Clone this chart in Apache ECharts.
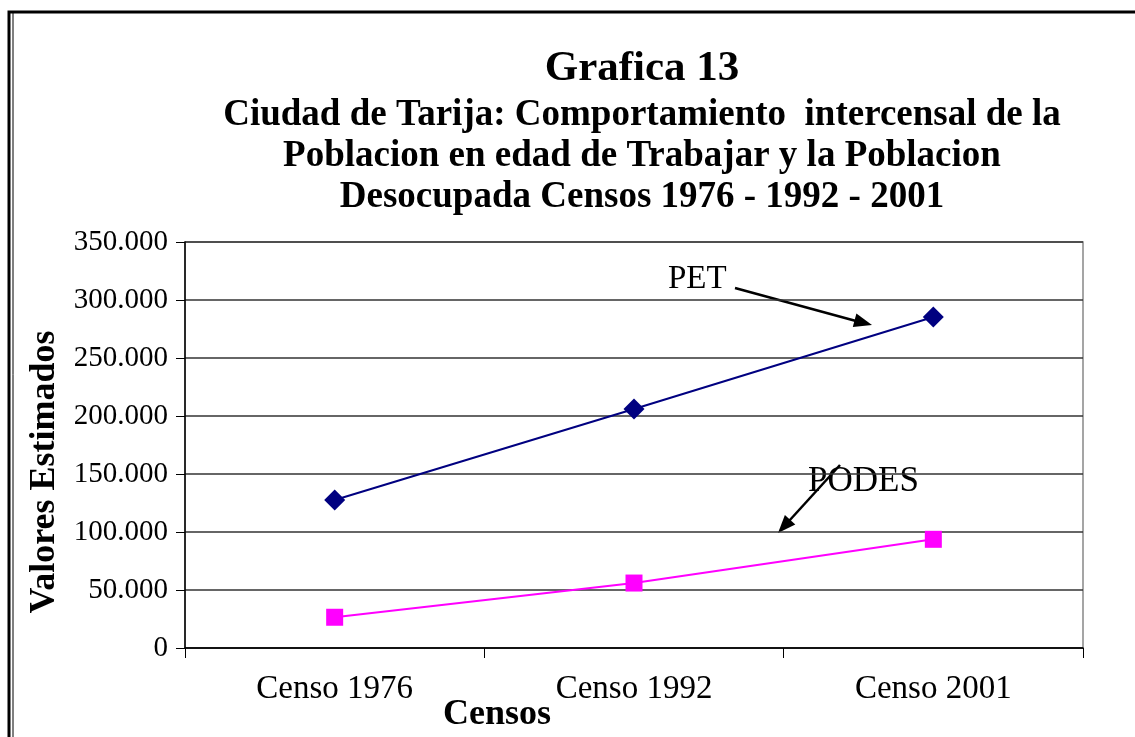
<!DOCTYPE html>
<html>
<head>
<meta charset="utf-8">
<script src="https://cdn.jsdelivr.net/npm/echarts@6/dist/echarts.min.js"></script>
<style>
  html, body { margin: 0; padding: 0; background: #fff; }
  #chart { width: 1135px; height: 737px; }
</style>
</head>
<body>
<div id="chart"></div>
<script>
// datos
var censos = ['Censo 1976', 'Censo 1992', 'Censo 2001'];
var pet = [127600, 206000, 285400];
var podes = [26500, 56000, 93700];
var yTicks = [0, 50000, 100000, 150000, 200000, 250000, 300000, 350000];

var chart = echarts.init(document.getElementById('chart'));
var serif = 'Liberation Serif';

function miles(v) {
    return String(v).replace(/\B(?=(\d{3})+(?!\d))/g, '.');
}

var option = {
    backgroundColor: '#fff',
    animation: false,
    title: [{
        text: 'Grafica 13',
        left: 637,
        top: 42,
        textAlign: 'center',
        textStyle: { fontFamily: serif, fontWeight: 'bold', fontSize: 43, color: '#000' }
    }, {
        text: 'Ciudad de Tarija: Comportamiento  intercensal de la\nPoblacion en edad de Trabajar y la Poblacion\nDesocupada Censos 1976 - 1992 - 2001',
        left: 637,
        top: 90,
        textAlign: 'center',
        textStyle: { fontFamily: serif, fontWeight: 'bold', fontSize: 37, lineHeight: 41, color: '#000' }
    }],
    grid: {
        left: 185, right: 52, top: 242, bottom: 89,
        outerBoundsMode: 'none',
        show: true, borderColor: '#888', borderWidth: 1.5
    },
    xAxis: {
        type: 'category',
        data: censos,
        boundaryGap: true,
        name: 'Censos',
        nameLocation: 'middle',
        nameGap: 49,
        nameMoveOverlap: false,
        nameTextStyle: { fontFamily: serif, fontWeight: 'bold', fontSize: 36, color: '#000', padding: [0, 274, 0, 0] },
        axisLine: { lineStyle: { color: '#000', width: 1.5 } },
        axisTick: { show: true, interval: 0, length: 10, lineStyle: { color: '#000' } },
        axisLabel: { margin: 25, fontFamily: serif, fontSize: 33, color: '#000' }
    },
    yAxis: {
        type: 'value',
        min: 0,
        max: 350000,
        interval: 50000,
        name: 'Valores Estimados',
        nameLocation: 'middle',
        nameGap: 122,
        nameMoveOverlap: false,
        nameTextStyle: { fontFamily: serif, fontWeight: 'bold', fontSize: 36, color: '#000', padding: [0, 54, 0, 0] },
        axisLine: { show: true, lineStyle: { color: '#000', width: 1.5 } },
        axisTick: { show: true, length: 9, lineStyle: { color: '#000' } },
        axisLabel: {
            margin: 17, fontFamily: serif, fontSize: 29, color: '#000',
            formatter: function (v) { return yTicks.indexOf(v) >= 0 ? miles(v) : ''; }
        },
        splitLine: { show: true, lineStyle: { color: '#333', width: 1.5 } }
    },
    series: [{
        name: 'PET',
        type: 'line',
        data: pet,
        symbol: 'diamond',
        symbolSize: 21,
        itemStyle: { color: '#000080' },
        lineStyle: { color: '#000080', width: 2 }
    }, {
        name: 'PODES',
        type: 'line',
        data: podes,
        symbol: 'rect',
        symbolSize: 17,
        itemStyle: { color: '#ff00ff' },
        lineStyle: { color: '#ff00ff', width: 2 }
    }],
    graphic: [
        // marco exterior
        { type: 'rect', shape: { x: 9, y: 12, width: 1140, height: 740 }, style: { fill: 'none', stroke: '#000', lineWidth: 3 }, silent: true },
        { type: 'line', shape: { x1: 13, y1: 12, x2: 13, y2: 737 }, style: { stroke: '#000', lineWidth: 1 }, silent: true },
        // anotaciones
        { type: 'text', left: 668, top: 263, style: { text: 'PET', font: '33px "Liberation Serif"', fill: '#000' } },
        { type: 'line', shape: { x1: 735, y1: 288, x2: 856, y2: 321 }, style: { stroke: '#000', lineWidth: 2.5 } },
        { type: 'polygon', shape: { points: [[872, 325], [852.8, 327.1], [856.4, 313.5]] }, style: { fill: '#000' } },
        { type: 'text', left: 808, top: 464, style: { text: 'PODES', font: '35px "Liberation Serif"', fill: '#000' } },
        { type: 'line', shape: { x1: 840, y1: 465, x2: 789, y2: 521 }, style: { stroke: '#000', lineWidth: 2.5 } },
        { type: 'polygon', shape: { points: [[778, 533], [795.3, 524.4], [784.9, 515.0]] }, style: { fill: '#000' } }
    ]
};

chart.setOption(option);
</script>
</body>
</html>
